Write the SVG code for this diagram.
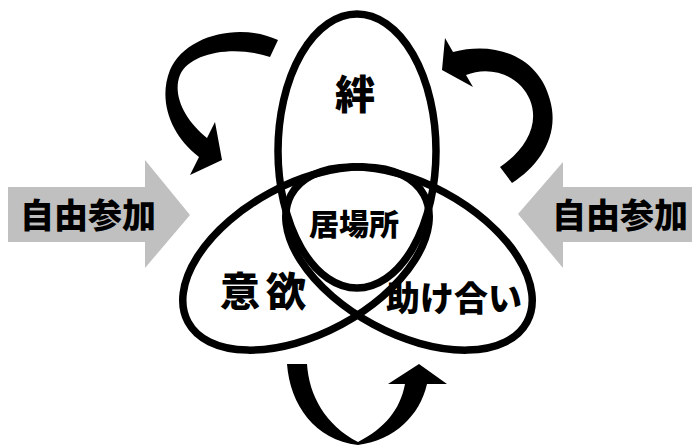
<svg xmlns="http://www.w3.org/2000/svg" width="699" height="446" viewBox="0 0 699 446">
<style>
.ring{fill:none;stroke:#000;stroke-width:7.5}
.big{fill:#000;font-family:"Noto Sans CJK JP","Noto Sans CJK SC",sans-serif;font-weight:900;text-anchor:middle}
.garrow{fill:#C0C0C0}
.carrow{fill:#000}
</style>
<rect width="699" height="446" fill="#fff"/>
<g id="left-input">
<polygon class="garrow" points="8,187 145,187 145,160 190,215 145,268 145,242 8,242"/>
<text class="big" x="88" y="228" font-size="34">自由参加</text>
</g>
<g id="right-input">
<polygon class="garrow" points="692,187 563,187 563,162 518,214 563,268 563,242 692,242"/>
<text class="big" x="620" y="228" font-size="34">自由参加</text>
</g>
<g id="connectors">
<path class="carrow" d="M278,40 C240,22 185,35 170,70 C158,100 170,135 199,157 L190,175 L222,160 L215,122 L207,138 C185,120 172,95 180,75 C190,52 235,45 270,57 Z"/>
<path class="carrow" d="M453,52 L445,38 L442,70 L473,87 L466,75 C490,65 520,75 530,100 C540,125 525,150 500,167 L512,183 C540,165 560,135 550,100 C540,60 500,40 453,52 Z"/>
<path class="carrow" d="M287,364 L307,364 C309,395 325,425 358,442 C385,428 400,410 405,384 L388,384 L419,364 L447,384 L427,384 C420,415 395,440 358,445 C315,440 290,405 287,364 Z"/>
</g>
<g id="kizuna">
<ellipse class="ring" cx="357" cy="151" rx="79" ry="137"/>
<text class="big" x="355" y="109" font-size="40">絆</text>
</g>
<g id="iyoku">
<ellipse class="ring" cx="306" cy="258.5" rx="134" ry="75" transform="rotate(-28.3 306 258.5)"/>
<text class="big" x="266" y="306" font-size="40" letter-spacing="6">意欲</text>
</g>
<g id="tasukeai">
<ellipse class="ring" cx="409" cy="258.5" rx="134" ry="75" transform="rotate(28.3 409 258.5)"/>
<text class="big" x="454" y="311" font-size="34">助け合い</text>
</g>
<g id="ibasho">
<text class="big" x="354" y="235" font-size="30">居場所</text>
</g>
</svg>
